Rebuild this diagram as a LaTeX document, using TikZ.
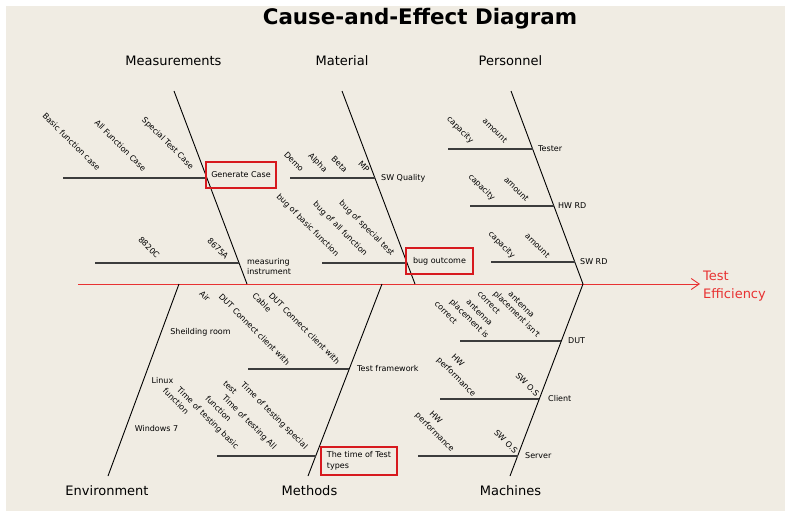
\documentclass[tikz,border=0pt]{standalone}
\usepackage{fontspec}
\setmainfont{DejaVu Sans}
\usetikzlibrary{arrows.meta}
\definecolor{paper}{RGB}{240,236,227}
\definecolor{effectred}{RGB}{232,50,50}
\definecolor{framered}{RGB}{215,25,30}
\definecolor{twiggray}{RGB}{60,60,60}

\begin{document}
\begin{tikzpicture}[x=1pt,y=-1pt,>={Straight Barb[length=8pt,width=11pt]}]
	\tikzset{
		bone/.style={black,line width=0.9pt},
		twig/.style={twiggray,line width=1.5pt},
		cause/.style={font=\fontsize{8}{10}\selectfont,inner sep=0pt},
		sub/.style={cause,rotate=-45},
		redbox/.style={cause,draw=framered,line width=2pt,align=left},
		category/.style={font=\fontsize{13}{16}\selectfont,inner sep=0pt}
	}
	% page
	\useasboundingbox (0,0) rectangle (790,516);
	\fill[white] (0,0) rectangle (790,516);
	\fill[paper] (6,6) rectangle (785,511);
	\node[anchor=base,inner sep=0pt,font=\fontsize{21.4}{24}\selectfont\bfseries] (title) at (420,25) {Cause-and-Effect Diagram};
	
	% spine and main bones
	\path 
	(78,284)coordinate(tail)
	(700,284)coordinate(head)
	(174,91)coordinate(meas) (247,284)coordinate(meas-end)
	(342,91)coordinate(mat) (415,284)coordinate(mat-end)
	(511,91)coordinate(pers) (583,284)coordinate(pers-end)
	(108,476)coordinate(env) (179,284)coordinate(env-end)
	(308,476)coordinate(meth) (382,284)coordinate(meth-end)
	(510,476)coordinate(mach) (583,284)coordinate(mach-end)
	;
	\draw[->,effectred,line width=0.9pt] (tail)--(head);
	\foreach \a in {meas,mat,pers,env,meth,mach}\draw[bone] (\a)--(\a-end);
	
	% branches, each ending on its bone
	\foreach \n/\a/\b/\y in {gencase/63/207/178,swq/290/375/178,tester/448/533/149,hwrd/470/554/206,swrd/491/575/262,instr/95/239/263,bugout/322/407/263,dut/460/561/341,client/440/539/399,server/418/518/456,framework/248/349/369,testtime/217/316/456}{
		\path (\a,\y)coordinate(\n-in) (\b,\y)coordinate(\n);
		\draw[twig] (\n-in)--(\n);
	}
	
	% branch labels
	\node[redbox,minimum width=70pt,minimum height=26pt] (gencase-lbl) at (241,175) {Generate Case};
	\node[redbox,minimum width=67pt,minimum height=26pt] (bugout-lbl) at (439.5,261) {bug outcome};
	\node[redbox,minimum width=76pt,minimum height=28pt,font=\fontsize{8}{10.5}\selectfont] (testtime-lbl) at (359,461) {The time of Test\\types};
	\node[cause,anchor=west,align=left] (instr-lbl) at (247,267) {measuring\\instrument};
	\foreach \n/\t/\x in {swq/SW Quality/381,tester/Tester/538,hwrd/HW RD/558,swrd/SW RD/580,dut/DUT/568,client/Client/548,server/Server/525,framework/Test framework/357}
		\node[cause,anchor=west] (\n-lbl) at (\x,0 |- \n) {\t};
	
	% sub causes
	\foreach \t/\x/\y [count=\i] in {Basic function case/71.5/141.5,All Function Case/120.5/145.5,Special Test Case/167.5/143.5,
		Demo/294/162,Alpha/317.5/163,Beta/339.5/164.5,MP/364/167,
		capacity/460/130,amount/495/130.5,capacity/481.5/187.5,amount/516.5/189,capacity/501.5/245,amount/537.5/245.5,
		8820C/149/247.5,8675A/218/248.5,
		bug of basic function/307.5/225.5,bug of all function/340/229,bug of special test/366.5/228.5,
		antenna/521.5/304.5,placement isn't/516.5/314.5,correct/489/302.5,
		antenna/479.5/312.5,placement is/469/319,correct/446/312.5,
		HW/458/360,performance/456/377,SW O.S/527.5/384.5,
		HW/436/417,performance/434.5/432.5,SW O.S/506/441.5,
		DUT Connect client with/254.5/329.5,Air/205/296,DUT Connect client with/304.5/328.5,Cable/262/302.5,
		Time of testing special/274/416,test/230/387.5,Time of testing All/249/422.5,function/218.5/408.5,
		Time of testing basic/207.5/418.5,function/176/401}
		\node[sub] (sub\i) at (\x,\y) {\t};
	\foreach \t/\x/\y [count=\i] in {Sheilding room/200.5/332,Linux/162.5/380.5,Windows 7/156.5/428.5}
		\node[cause] (env\i) at (\x,\y) {\t};
	
	% categories and effect
	\foreach \n/\t/\x/\y in {meas/Measurements/173.5/61,mat/Material/342/61,pers/Personnel/510.5/61,env/Environment/107/491,meth/Methods/309.5/491,mach/Machines/510.5/491}
		\node[category] (\n-lbl) at (\x,\y) {\t};
	\node[category,text=effectred,align=left,anchor=west,font=\fontsize{13}{18}\selectfont] (effect) at (703,286) {Test\\Efficiency};
\end{tikzpicture}
\end{document}
